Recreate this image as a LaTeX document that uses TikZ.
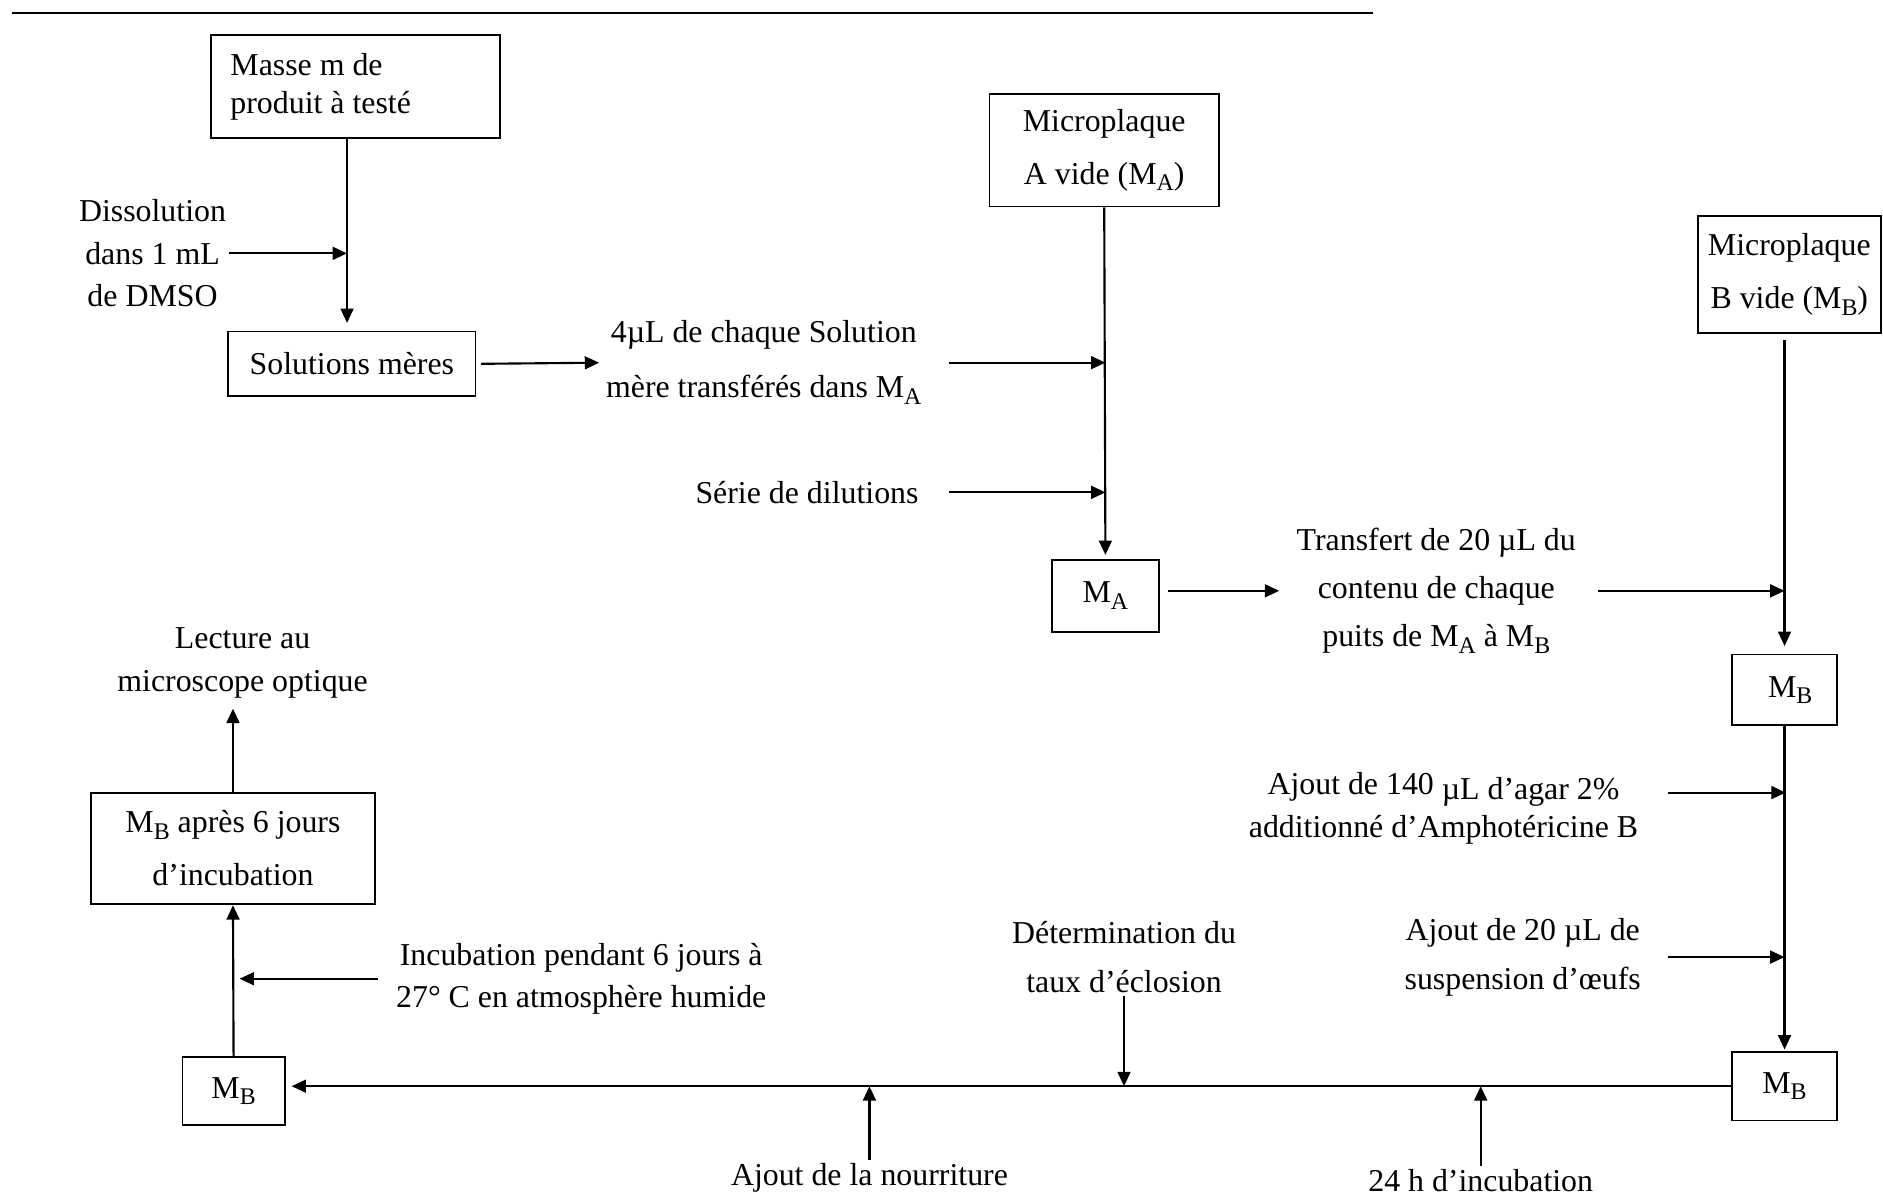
\documentclass[tikz,border=0pt]{standalone}
\usepackage{fontspec}
\setmainfont{Liberation Serif}
\usetikzlibrary{arrows.meta}
\newcommand\sous[1]{\raisebox{-0.45ex}{\fontsize{9}{9}\selectfont #1}}
\newcommand\interl[1]{\fontsize{12}{#1}\selectfont}

\begin{document}
\begin{tikzpicture}[x=0.159mm, y=-0.159mm,
  box/.style={draw, line width=0.7pt, inner sep=0pt, align=center, font=\interl{20pt}},
  sz/.style 2 args={minimum width=#1*0.159mm, minimum height=#2*0.159mm},
  lbl/.style={align=center, inner sep=1pt, font=\interl{16pt}},
  arr/.style={-{Triangle[length=1.9mm, width=1.7mm]}, line width=0.8pt}]
  \useasboundingbox (0,0) rectangle (1568,996);
  % Top rule
  \draw[line width=0.9pt] (10,11) -- (1143,11);
  % Boxes
  \node[box, sz={240}{86}, align=flush left, text width=33.1mm, inner xsep=2.54mm,
    font=\interl{14.4pt}] (masse) at (296,72) {Masse m de\\produit à testé};
  \node[box, sz={206}{54}] (solm) at (293,303) {Solutions mères};
  \node[box, sz={191}{94}] (mpa) at (919.5,125) {Microplaque\\A vide (M\sous{A})};
  \node[box, sz={89}{60}] (ma) at (920.5,496) {M\sous{A}};
  \node[box, sz={152}{97}] (mpb) at (1490,228.5) {Microplaque\\B vide (M\sous{B})};
  \node[box, sz={88}{59}] (mb1) at (1486,574.5) {\hspace{1.5mm}M\sous{B}};
  \node[box, sz={88}{57}] (mb2) at (1486,904.5) {M\sous{B}};
  \node[box, sz={85}{57}] (mb3) at (194.5,908.5) {M\sous{B}};
  \node[box, sz={236}{93}] (mb6) at (194,706.5) {M\sous{B} après 6 jours\\d’incubation};
  % Labels
  \node[lbl] (diss) at (127,211) {Dissolution\\dans 1 mL\\de DMSO};
  \node[lbl, font=\interl{20.7pt}] (transA) at (636,302)
    {4µL de chaque Solution\\mère transférés dans M\sous{A}};
  \node[lbl] (serie) at (672,410) {Série de dilutions};
  \node[lbl, font=\interl{18pt}] (transB) at (1196,492)
    {Transfert de 20 µL du\\contenu de chaque\\puits de M\sous{A} à M\sous{B}};
  \node[lbl] (agar) at (1202,673)
    {Ajout de 140 \raisebox{-0.3ex}{µL d’agar 2\%}\\additionné d’Amphotéricine B};
  \node[lbl, font=\interl{18.5pt}] (oeufs) at (1268,797) {Ajout de 20 µL de\\suspension d’œufs};
  \node[lbl, font=\interl{18.5pt}] (deter) at (936,797) {Détermination du\\taux d’éclosion};
  \node[lbl] (nourr) at (724,981) {Ajout de la nourriture};
  \node[lbl] (h24) at (1233,983) {24 h d’incubation};
  \node[lbl] (incub) at (484,815) {Incubation pendant 6 jours à\\27° C en atmosphère humide};
  \node[lbl] (lect) at (202,552) {Lecture au\\microscope optique};
  % Junctions on the main lines
  \coordinate (jm) at (289,0);
  \coordinate (jd) at (jm |- diss.east);
  \coordinate (ja1) at (ma.north |- transA);
  \coordinate (ja2) at (ma.north |- serie);
  \coordinate (jb1) at (mb1.north |- transB);
  \coordinate (jb2) at (1487,660);
  \coordinate (jb3) at (mb1.north |- oeufs);
  \coordinate (jc) at (deter.south |- mb2.west);
  \coordinate (jn) at (nourr.north |- mb2.west);
  \coordinate (jh) at (h24.north |- mb2.west);
  \coordinate (ji) at (mb3.north |- incub);
  % Preparation of M_A
  \draw[arr, shorten >=1mm] (jm |- masse.south) -- (jm |- solm.north);
  \draw[arr] (diss.east) -- (jd);
  \draw[arr, shorten <=0.6mm, shorten >=0.5mm] (solm.east) -- (transA.west);
  \draw[arr, shorten <=3.2mm] (transA.east) -- (ja1);
  \draw[arr, shorten <=3.6mm] (serie.east) -- (ja2);
  \draw[arr, shorten >=0.5mm] (mpa.south) -- (ma.north);
  % Transfer to M_B
  \draw[arr, shorten <=1.1mm, shorten >=1.9mm] (ma.east |- transB.west) -- (transB.west);
  \draw[arr, shorten <=2.5mm] (transB.east) -- (jb1);
  \draw[arr, shorten <=0.8mm, shorten >=1mm] (mpb.south -| mb1.north) -- (mb1.north);
  \draw[arr, shorten <=3.6mm] (jb2 -| agar.east) -- (jb2);
  \draw[arr, shorten <=3.2mm] (oeufs.east) -- (jb3);
  \draw[arr, shorten >=0.2mm] (mb1.south) -- (mb2.north);
  % Bottom line
  \draw[arr, shorten >=0.8mm] (mb2.west) -- (mb2.west -| mb3.east);
  \draw[arr] (deter.south) -- (jc);
  \draw[arr] (nourr.north) -- (jn);
  \draw[arr] (h24.north) -- (jh);
  % Incubation and reading
  \draw[arr] (mb3.north) -- (mb6.south);
  \draw[arr, shorten <=2mm, shorten >=0.8mm] (incub.west) -- (ji);
  \draw[arr, shorten >=1mm] (mb6.north) -- (mb6.north |- lect.south);
\end{tikzpicture}
\end{document}
